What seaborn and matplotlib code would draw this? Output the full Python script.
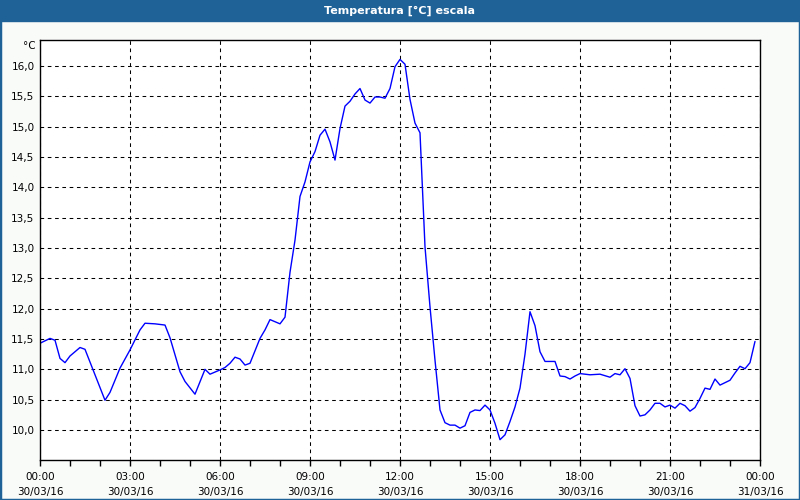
import matplotlib
matplotlib.use("Agg")
import matplotlib.pyplot as plt
import matplotlib.patches as mpatches
from matplotlib.ticker import MultipleLocator, FuncFormatter
import seaborn as sns
import pandas as pd

# --- dados (minutos desde 00:00 de 30/03/16, temperatura em °C) ---
minutes = [0, 20, 30, 40, 50, 60, 80, 90, 110, 130, 140, 160, 180, 200, 210,
           230, 250, 260, 280, 290, 310, 330, 340, 360, 370, 380, 390, 400,
           410, 420, 440, 450, 460, 480, 490, 500, 510, 520, 530, 540, 550,
           560, 570, 580, 590, 600, 610, 620, 630, 640, 650, 660, 670, 680,
           690, 700, 710, 720, 730, 740, 750, 760, 770, 780, 790, 800, 810,
           820, 830, 840, 850, 860, 870, 880, 890, 900, 910, 920, 930, 940,
           950, 960, 970, 980, 990, 1000, 1010, 1020, 1030, 1040, 1050, 1060,
           1070, 1080, 1100, 1120, 1140, 1150, 1160, 1170, 1180, 1190, 1200,
           1210, 1220, 1230, 1240, 1250, 1260, 1270, 1280, 1290, 1300, 1310,
           1320, 1330, 1340, 1350, 1360, 1370, 1380, 1390, 1400, 1410, 1420,
           1430]
temperatura = [11.43, 11.51, 11.48, 11.18, 11.11, 11.22, 11.36, 11.33, 10.91,
               10.49, 10.62, 11.02, 11.32, 11.65, 11.76, 11.75, 11.73, 11.52,
               10.96, 10.80, 10.59, 11.00, 10.92, 10.99, 11.03, 11.10, 11.20,
               11.17, 11.07, 11.10, 11.51, 11.65, 11.82, 11.75, 11.86, 12.60,
               13.13, 13.85, 14.09, 14.42, 14.59, 14.86, 14.96, 14.75, 14.45,
               14.97, 15.34, 15.42, 15.54, 15.63, 15.44, 15.39, 15.49, 15.49,
               15.47, 15.63, 15.99, 16.11, 16.03, 15.45, 15.06, 14.90, 13.02,
               12.03, 11.15, 10.33, 10.12, 10.08, 10.08, 10.03, 10.07, 10.29,
               10.33, 10.32, 10.41, 10.33, 10.11, 9.84, 9.92, 10.14, 10.38,
               10.69, 11.25, 11.95, 11.72, 11.29, 11.13, 11.13, 11.13, 10.89,
               10.88, 10.84, 10.89, 10.93, 10.91, 10.92, 10.87, 10.93, 10.91,
               11.01, 10.85, 10.40, 10.23, 10.25, 10.33, 10.44, 10.44, 10.38,
               10.41, 10.36, 10.44, 10.40, 10.31, 10.37, 10.52, 10.69, 10.67,
               10.84, 10.74, 10.78, 10.82, 10.94, 11.05, 11.01, 11.11, 11.46]

x_ticks = [0, 3, 6, 9, 12, 15, 18, 21, 24]
x_tick_labels = ["00:00\n30/03/16", "03:00\n30/03/16", "06:00\n30/03/16",
                 "09:00\n30/03/16", "12:00\n30/03/16", "15:00\n30/03/16",
                 "18:00\n30/03/16", "21:00\n30/03/16", "00:00\n31/03/16"]

TITLE = "Temperatura [°C] escala"
BAR_BLUE = "#1f6298"
BG = "#f9fbf9"

df = pd.DataFrame({"hora": [m / 60 for m in minutes], "temp": temperatura})

sns.set_style("white")
plt.rcParams["font.family"] = ["DejaVu Sans"]
plt.rcParams["text.color"] = "black"
plt.rcParams["xtick.color"] = "black"
plt.rcParams["ytick.color"] = "black"

fig = plt.figure(figsize=(8, 5), dpi=100, facecolor=BG)
ax = fig.add_axes([0.05, 0.08, 0.90, 0.84])
ax.set_facecolor("white")

sns.lineplot(data=df, x="hora", y="temp", ax=ax, color="#0000ff", linewidth=1.0)

ax.set_xlim(0, 24)
ax.set_ylim(9.505, 16.43)
ax.set_xticks(x_ticks)
ax.set_xticklabels(x_tick_labels, fontsize=7.5, linespacing=1.6)
ax.xaxis.set_minor_locator(MultipleLocator(1))
ax.yaxis.set_major_locator(MultipleLocator(0.5))
ax.yaxis.set_major_formatter(FuncFormatter(lambda v, p: f"{v:.1f}".replace(".", ",")))
ax.tick_params(axis="y", length=0, labelsize=7.5, pad=4, labelcolor="black")
ax.tick_params(axis="x", which="both", direction="out", length=4, width=1,
               color="black", bottom=True, pad=5, labelcolor="black")
ax.set_xlabel("")
ax.set_ylabel("")

ax.grid(True, which="major", color="black", linestyle=(0, (3.5, 3.5)), linewidth=0.75)
for s in ax.spines.values():
    s.set_color("black")
    s.set_linewidth(1.0)

# unidade no topo do eixo y
fig.text(36 / 800, 1 - 46 / 500, "°C", ha="right", va="center", fontsize=7.5,
         color="black")

# barra de título
fig.patches.append(mpatches.Rectangle((0, 1 - 21 / 500), 1, 21 / 500,
                                      transform=fig.transFigure, color=BAR_BLUE,
                                      zorder=0))
fig.text(0.5, 1 - 10.5 / 500, TITLE, ha="center", va="center", color="white",
         fontsize=8, fontweight="bold")
# moldura
fig.patches.append(mpatches.Rectangle((0, 0), 1, 1, transform=fig.transFigure,
                                      fill=False, edgecolor=BAR_BLUE, linewidth=2.5))

fig.savefig("out.png", dpi=100, facecolor=BG)
